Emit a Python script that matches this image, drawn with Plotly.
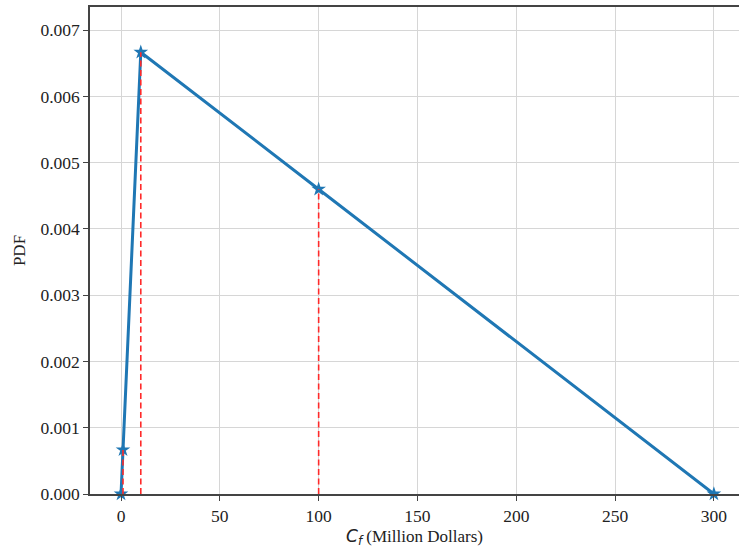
import plotly.graph_objects as go

# Cost values (million dollars) and their PDF values
cost = [0, 1, 10, 100, 300]
pdf = [0.0, 0.000667, 0.006667, 0.0046, 0.0]

# Points marked with red dashed drop lines
drop_x = [1, 10, 100]
drop_y = [0.000667, 0.006667, 0.0046]

x_ticks = [0, 50, 100, 150, 200, 250, 300]
y_ticks = [0.000, 0.001, 0.002, 0.003, 0.004, 0.005, 0.006, 0.007]

fig = go.Figure()

fig.add_trace(go.Scatter(
    x=cost, y=pdf, mode="lines+markers",
    line=dict(color="#1f77b4", width=3),
    marker=dict(symbol="star", size=11, color="#1f77b4"),
    showlegend=False, cliponaxis=False,
))

# Dashed drop lines drawn over the curve
for xv, yv in zip(drop_x, drop_y):
    fig.add_trace(go.Scatter(
        x=[xv, xv], y=[0, yv], mode="lines",
        line=dict(color="#ff2a2a", width=1.6, dash="6px,3.5px"),
        showlegend=False, hoverinfo="skip",
    ))

font_family = "Liberation Serif, Times New Roman, serif"

fig.update_layout(
    width=739, height=551,
    margin=dict(l=90, r=0, t=7, b=57),
    paper_bgcolor="white", plot_bgcolor="white",
    font=dict(family=font_family, size=17.5, color="#222"),
    xaxis=dict(
        range=[-15.7, 312.7],
        tickvals=x_ticks, ticktext=[str(v) for v in x_ticks],
        showgrid=True, gridcolor="#d6d6d6", gridwidth=1,
        showline=True, linecolor="#444", linewidth=1.5, mirror=True,
        ticks="outside", ticklen=5, tickcolor="#444",
        zeroline=False,
        title=dict(
            text='<span style="font-family:DejaVu Sans"><i>C</i><sub><i>f</i></sub></span> (Million Dollars)',
            font=dict(size=17), standoff=4,
        ),
    ),
    yaxis=dict(
        range=[0, 0.00735],
        tickvals=y_ticks, ticktext=[f"{v:.3f}" for v in y_ticks],
        showgrid=True, gridcolor="#d6d6d6", gridwidth=1,
        showline=True, linecolor="#444", linewidth=1.5, mirror=False,
        ticks="outside", ticklen=5, tickcolor="#444",
        zeroline=False,
        title=dict(text="PDF", font=dict(size=17), standoff=10),
    ),
)

fig.write_html("out.html")
